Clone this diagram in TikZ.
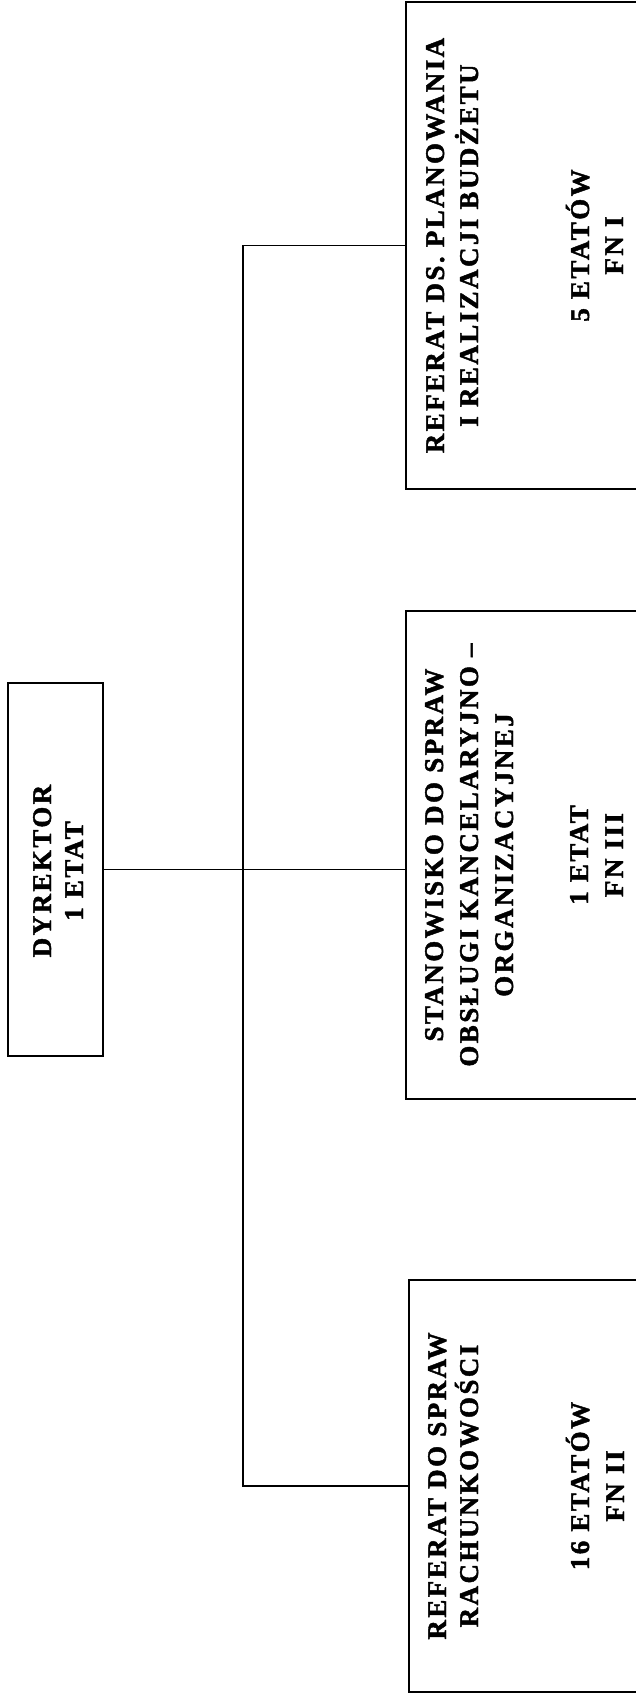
\documentclass[tikz,border=0pt]{standalone}
\usepackage{fontspec}
\setmainfont{Liberation Serif}[LetterSpace=9,FakeBold=1.6]
\begin{document}
\begin{tikzpicture}[x=1pt,y=-1pt,
  box/.style={draw, line width=1.2pt, rectangle, inner sep=0pt},
  lbl/.style={rotate=90, anchor=base, inner sep=0pt, font=\bfseries\fontsize{27}{34}\selectfont},
  conn/.style={line width=1.1pt}]
\useasboundingbox (0,0) rectangle (636,1694);
\clip (0,0) rectangle (636,1694);
% boxes
\node[box, minimum width=95pt, minimum height=373pt] (dyr) at (55.5,869.5) {};
\node[box, minimum width=254pt, minimum height=487pt] (b1) at (533,245.5) {};
\node[box, minimum width=254pt, minimum height=488pt] (b2) at (533,855) {};
\node[box, minimum width=251pt, minimum height=412pt] (b3) at (534.5,1486) {};
% texts
\node[lbl] (d1) at (51,871) {DYREKTOR};
\node[lbl] (d2) at (83,871) {1 ETAT};
\node[lbl] (a1) at (444,245.5) {REFERAT DS. PLANOWANIA};
\node[lbl] (a2) at (478,245.5) {I REALIZACJI BUDŻETU};
\node[lbl] (a3) at (589,245.5) {5 ETATÓW};
\node[lbl] (a4) at (623,245.5) {FN I};
\node[lbl] (m1) at (443,855) {STANOWISKO DO SPRAW};
\node[lbl] (m2) at (478,855) {OBSŁUGI KANCELARYJNO –};
\node[lbl] (m3) at (513,855) {ORGANIZACYJNEJ};
\node[lbl] (m4) at (588,855) {1 ETAT};
\node[lbl] (m5) at (623,855) {FN III};
\node[lbl] (r1) at (446,1486) {REFERAT DO SPRAW};
\node[lbl] (r2) at (478,1486) {RACHUNKOWOŚCI};
\node[lbl] (r3) at (589,1486) {16 ETATÓW};
\node[lbl] (r4) at (624,1486) {FN II};
% connectors
\coordinate (tx) at (243,0);
\draw[conn] (dyr.east) coordinate (de) -- (de -| b2.west);
\draw[conn] (b1.west) -- (b1.west -| tx) -- (b3.west -| tx) -- (b3.west);
\end{tikzpicture}
\end{document}
